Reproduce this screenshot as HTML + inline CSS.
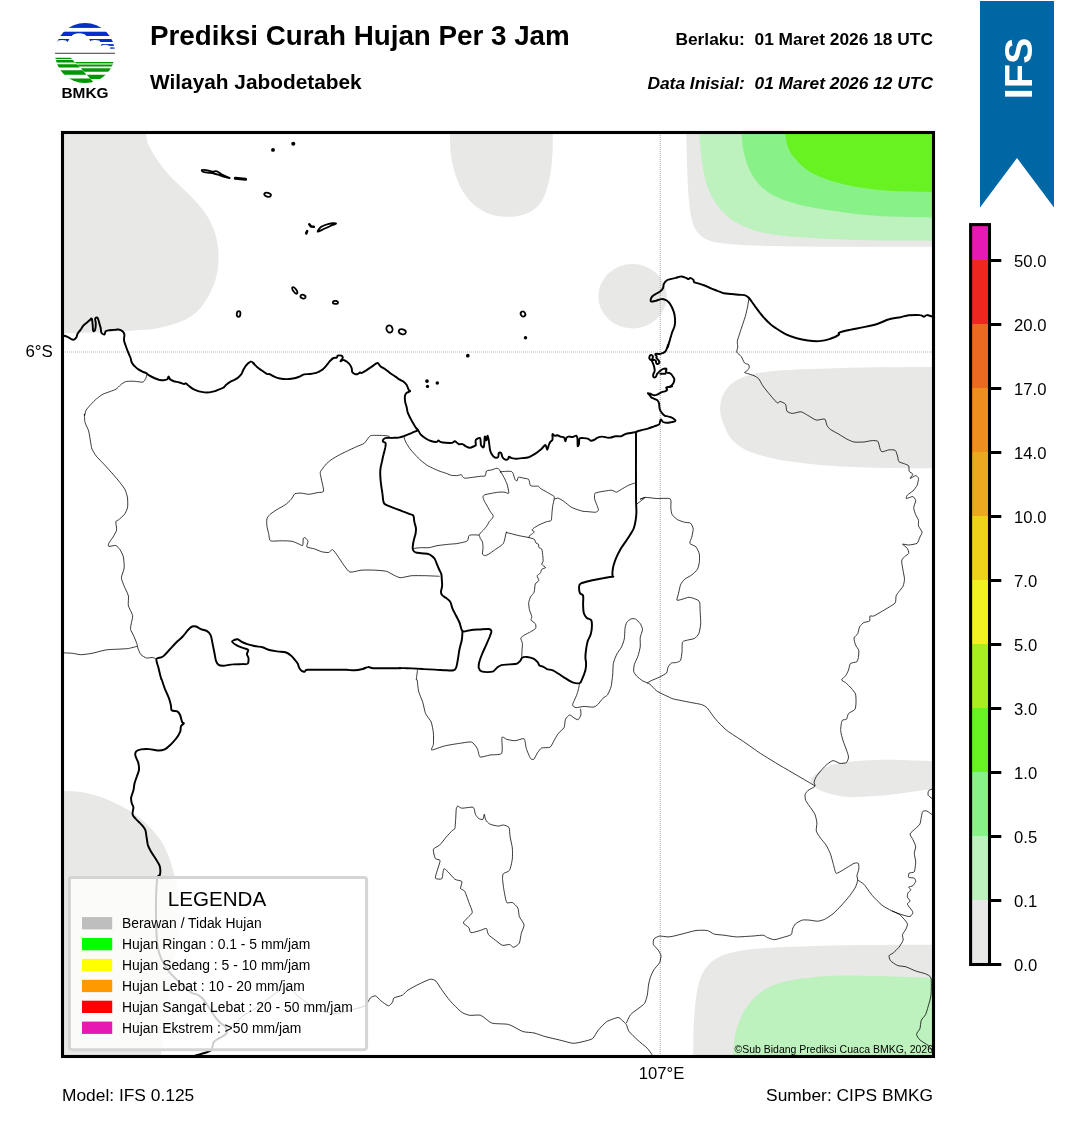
<!DOCTYPE html>
<html lang="id">
<head>
<meta charset="utf-8">
<title>Prediksi Curah Hujan Per 3 Jam - Wilayah Jabodetabek</title>
<style>
html,body{margin:0;padding:0;background:#fff;}
svg{display:block;font-family:"Liberation Sans",sans-serif;}
</style>
</head>
<body>
<svg width="1072" height="1128" viewBox="0 0 1072 1128">
<rect width="1072" height="1128" fill="#fff"/>
<defs>
<clipPath id="mapclip"><rect x="63" y="133" width="870" height="923"/></clipPath>
<clipPath id="logoclip"><circle cx="85" cy="53" r="30"/></clipPath>
</defs>

<!-- HEADER TEXT -->
<text x="150" y="44.500" font-size="27.78" font-weight="bold" fill="#000">Prediksi Curah Hujan Per 3 Jam</text>
<text x="150" y="88.600" font-size="20.83" font-weight="bold" fill="#000">Wilayah Jabodetabek</text>
<text x="933" y="45" font-size="17.36" font-weight="bold" text-anchor="end" xml:space="preserve" fill="#000">Berlaku:  01 Maret 2026 18 UTC</text>
<text x="933" y="89" font-size="17.36" font-weight="bold" font-style="italic" text-anchor="end" xml:space="preserve" fill="#000">Data Inisial:  01 Maret 2026 12 UTC</text>

<!-- LOGO -->
<g id="logo">
<!--LOGO-->
<g clip-path="url(#logoclip)">
<rect x="50" y="20" width="70" height="7.9" fill="#0030c8"/>
<rect x="50" y="31.7" width="70" height="4.3" fill="#0030c8"/>
<ellipse cx="79.1" cy="36.6" rx="7.4" ry="3.3" fill="#fff"/>
<path d="M50 38.9H69.4L67.5 42H50Z" fill="#0030c8"/>
<ellipse cx="62.1" cy="42.4" rx="5.2" ry="2.4" fill="#fff"/>
<path d="M89.2 38.9H120V42H90.8Z" fill="#0030c8"/>
<ellipse cx="95.1" cy="42.4" rx="5.2" ry="2.3" fill="#fff"/>
<rect x="101.3" y="44.1" width="20" height="1.8" fill="#0030c8"/>
<ellipse cx="105.3" cy="46.2" rx="3.6" ry="1.5" fill="#fff"/>
<rect x="110.1" y="47.4" width="10" height="1.3" fill="#0030c8"/>
<rect x="50" y="52.7" width="70" height="1.3" fill="#666"/>
<path d="M50 57.7H70.6L71.8 59.0H50Z" fill="#009600"/>
<path d="M50 60.1H72.8L75.0 62.4H50Z" fill="#009600"/>
<path d="M50 64.2H76.7L79.9 67.6H50Z" fill="#009600"/>
<path d="M50 70.2H82.3L86.6 74.8H50Z" fill="#009600"/>
<path d="M50 78.6H90.1L95.2 84H50Z" fill="#009600"/>
<path d="M120 61.9H74.8L75.9 63.0H120Z" fill="#009600"/>
<path d="M120 63.0H75.9L77.4 64.7H120Z" fill="#8fd08f"/>
<path d="M120 64.7H77.4L79.2 66.6H120Z" fill="#009600"/>
<path d="M120 68.3H80.8L84.0 71.7H120Z" fill="#009600"/>
<path d="M120 74.7H86.8L90.7 78.9H120Z" fill="#009600"/>
</g>
<!--/LOGO-->
</g>
<text x="85" y="98" font-size="15.400" font-weight="bold" text-anchor="middle" fill="#000">BMKG</text>

<!-- IFS BANNER -->
<path d="M980 1H1054V207.500L1017 158L980 207.500Z" fill="#0067a5"/>
<text transform="translate(1032 68.500) rotate(-90)" font-size="39.600" font-weight="bold" text-anchor="middle" fill="#fff">IFS</text>

<!-- MAP -->
<g clip-path="url(#mapclip)">
<g id="fills">
<!--FILLS-->
<path d="M145.2 130.0C145.3 130.7 145.5 131.7 146.0 134.0C146.5 136.3 146.5 140.1 148.0 143.8C149.5 147.5 151.8 151.5 155.0 156.4C158.2 161.3 163.1 168.1 167.5 173.2C171.9 178.3 176.8 182.5 181.5 187.2C186.2 191.9 191.3 196.5 195.5 201.2C199.7 205.9 203.7 210.5 206.7 215.2C209.7 219.9 211.9 224.5 213.7 229.2C215.5 233.8 216.6 238.4 217.4 243.1C218.2 247.8 218.5 252.4 218.5 257.1C218.5 261.8 218.2 266.4 217.4 271.1C216.6 275.8 215.5 280.4 213.7 285.1C211.9 289.8 209.3 294.9 206.7 299.1C204.1 303.3 201.6 307.0 198.3 310.3C195.0 313.6 191.3 316.4 187.1 318.7C182.9 321.0 178.2 322.7 173.1 324.3C168.0 325.9 162.9 327.5 156.4 328.5C149.9 329.5 142.4 329.9 134.0 330.5C125.6 331.1 117.7 331.4 106.0 331.9C94.3 332.4 72.5 333.0 64.0 333.3C55.5 333.6 56.5 333.5 55.0 333.5L55 130Z" fill="#e8e8e7"/>
<path d="M449.9 128.0C449.9 129.0 449.9 129.7 450.0 134.0C450.1 138.3 450.0 147.1 450.8 153.6C451.6 160.1 453.1 167.1 455.0 173.2C456.9 179.3 459.0 184.9 462.0 190.0C465.0 195.1 468.9 200.2 473.1 204.0C477.3 207.8 482.2 210.8 487.1 212.9C492.0 215.0 497.4 216.1 502.5 216.6C507.6 217.1 513.0 216.9 517.9 216.0C522.8 215.1 527.9 213.5 531.9 211.0C535.9 208.5 539.1 205.2 541.7 201.2C544.3 197.2 545.8 192.3 547.3 187.2C548.8 182.1 550.1 176.5 551.0 170.4C551.9 164.3 552.3 156.9 552.6 150.8C552.9 144.7 552.8 137.8 552.9 134.0C553.0 130.2 553.0 129.0 553.0 128.0Z" fill="#e8e8e7"/>
<ellipse cx="632.5" cy="296.3" rx="34.2" ry="32.2" fill="#e8e8e7"/>
<path d="M686.0 128.0C686.0 129.0 686.0 128.3 686.2 134.0C686.4 139.7 686.7 152.7 687.0 162.0C687.3 171.3 687.5 181.6 688.1 190.0C688.7 198.4 689.3 206.1 690.4 212.4C691.5 218.7 692.5 223.6 694.6 227.8C696.7 232.0 699.5 235.1 703.0 237.5C706.5 239.9 710.2 241.1 715.6 242.3C721.0 243.5 726.8 243.9 735.2 244.5C743.6 245.1 753.8 245.6 765.9 245.9C778.0 246.2 791.6 246.3 807.9 246.5C824.2 246.7 843.1 246.8 863.9 246.8C884.7 246.9 919.8 246.8 932.5 246.8C945.2 246.8 938.8 246.8 940.0 246.8L940 128Z" fill="#e8e8e7"/>
<path d="M699.0 128.0C699.0 129.0 699.0 129.7 699.3 134.0C699.6 138.3 700.1 146.6 701.0 153.6C701.9 160.6 702.9 169.5 704.4 176.0C705.9 182.5 707.7 187.7 710.0 192.8C712.3 197.9 715.1 202.6 718.4 206.8C721.7 211.0 725.4 214.7 729.6 218.0C733.8 221.3 738.5 224.1 743.6 226.4C748.7 228.7 753.3 230.4 760.3 232.0C767.3 233.6 776.6 235.1 785.5 236.1C794.4 237.1 802.8 237.5 813.5 238.1C824.2 238.7 836.8 239.4 849.9 239.8C863.0 240.2 878.1 240.4 891.9 240.6C905.7 240.8 924.5 240.8 932.5 240.9C940.5 241.0 938.8 241.0 940.0 241.0L940 128Z" fill="#bdf1bd"/>
<path d="M741.4 128.0C741.4 129.0 741.3 130.7 741.6 134.0C741.9 137.3 742.2 143.3 743.0 148.0C743.8 152.7 744.9 157.6 746.4 162.0C747.9 166.4 749.7 170.6 752.0 174.6C754.3 178.6 757.0 182.5 760.3 185.8C763.5 189.1 767.3 191.7 771.5 194.2C775.7 196.7 780.4 198.7 785.5 200.6C790.6 202.5 796.2 204.0 802.3 205.4C808.4 206.8 814.9 207.8 821.9 209.0C828.9 210.2 836.4 211.4 844.3 212.4C852.2 213.4 860.6 214.5 869.5 215.2C878.4 215.9 887.0 216.4 897.5 216.8C908.0 217.2 925.4 217.5 932.5 217.7C939.6 217.9 938.8 217.8 940.0 217.8L940 128Z" fill="#88f288"/>
<path d="M785.0 128.0C785.1 129.0 785.2 131.4 785.5 134.0C785.8 136.6 786.0 140.5 786.9 143.8C787.8 147.1 789.2 150.6 791.1 153.6C793.0 156.6 795.3 159.2 798.1 162.0C800.9 164.8 803.9 167.8 807.9 170.4C811.9 173.0 816.8 175.3 821.9 177.4C827.0 179.5 832.6 181.4 838.7 183.0C844.8 184.6 851.3 186.0 858.3 187.2C865.3 188.4 872.8 189.3 880.7 190.0C888.6 190.7 897.3 191.2 905.9 191.6C914.5 192.0 926.8 192.1 932.5 192.2C938.2 192.3 938.8 192.3 940.0 192.3L940 128Z" fill="#68f222"/>
<path d="M940.0 366.9C938.8 366.9 945.2 366.8 932.5 366.9C919.8 367.0 884.7 367.0 863.9 367.4C843.1 367.8 824.2 368.4 807.9 369.1C791.6 369.9 776.1 370.7 765.9 371.9C755.6 373.1 752.0 374.2 746.4 376.1C740.8 378.0 736.1 380.3 732.4 383.1C728.7 385.9 726.0 389.6 724.0 392.9C722.0 396.2 721.2 399.2 720.6 402.7C720.0 406.2 719.9 410.2 720.5 414.0C721.1 417.8 722.5 421.5 724.0 425.2C725.5 428.9 727.0 432.9 729.6 436.4C732.2 439.9 735.7 443.5 739.4 446.2C743.1 448.9 747.1 450.7 752.0 452.6C756.9 454.5 762.2 455.9 768.7 457.4C775.2 458.9 782.2 460.3 791.1 461.6C800.0 462.9 810.7 464.3 821.9 465.2C833.1 466.1 846.6 466.7 858.3 467.2C870.0 467.7 879.5 467.8 891.9 468.0C904.3 468.2 924.5 468.2 932.5 468.3C940.5 468.4 938.8 468.3 940.0 468.3Z" fill="#e8e8e7"/>
<path d="M940.0 761.6C938.6 761.5 935.5 761.5 931.8 761.3C928.1 761.1 923.6 760.8 917.7 760.6C911.8 760.4 903.5 760.0 896.4 759.9C889.3 759.8 882.2 759.9 875.1 760.1C868.0 760.3 860.9 760.5 853.8 761.3C846.7 762.1 838.5 763.0 832.6 764.8C826.7 766.6 822.1 769.3 818.4 771.9C814.7 774.5 811.1 777.8 810.6 780.4C810.1 783.0 813.0 785.5 815.5 787.5C818.0 789.5 821.5 791.1 825.5 792.5C829.5 793.9 834.9 795.2 839.6 796.0C844.3 796.8 847.9 797.0 853.8 797.0C859.7 797.0 868.0 796.5 875.1 796.0C882.2 795.5 889.3 794.7 896.4 793.9C903.5 793.1 911.8 791.9 917.7 791.1C923.6 790.3 928.1 789.7 931.8 789.2C935.5 788.7 938.6 788.4 940.0 788.2Z" fill="#e8e8e7"/>
<path d="M693.0 1060.0C693.0 1059.0 693.1 1059.6 693.2 1053.9C693.3 1048.2 693.2 1035.2 693.7 1025.9C694.2 1016.6 694.9 1005.9 696.0 998.0C697.1 990.1 698.1 984.0 700.2 978.4C702.3 972.8 705.1 968.1 708.6 964.4C712.1 960.7 716.3 958.2 721.2 956.0C726.1 953.8 730.5 952.5 738.0 951.2C745.5 949.9 754.2 948.9 765.9 948.1C777.5 947.3 791.6 946.7 807.9 946.2C824.2 945.7 843.1 945.3 863.9 945.1C884.7 944.9 919.8 944.8 932.5 944.8C945.2 944.8 938.8 944.8 940.0 944.8L940 1060Z" fill="#e8e8e7"/>
<path d="M733.0 1060.0C733.0 1059.0 732.8 1058.2 733.2 1053.9C733.6 1049.6 733.9 1040.4 735.2 1034.3C736.5 1028.2 738.5 1022.6 740.8 1017.5C743.1 1012.4 746.0 1007.8 749.2 1003.6C752.5 999.4 756.1 995.5 760.3 992.4C764.5 989.3 769.2 986.8 774.3 984.8C779.4 982.8 784.6 981.6 791.1 980.3C797.6 979.0 805.1 978.0 813.5 977.2C821.9 976.4 830.8 975.8 841.5 975.6C852.2 975.4 867.2 975.9 877.9 976.1C888.6 976.3 896.8 976.7 905.9 977.0C915.0 977.3 926.8 977.6 932.5 977.8C938.2 978.0 938.8 978.0 940.0 978.0L940 1060Z" fill="#bdf1bd"/>
<path d="M55.0 791.0C56.5 791.0 59.2 790.9 64.0 791.1C68.8 791.4 76.6 791.2 83.6 792.5C90.6 793.8 98.5 796.0 106.0 798.9C113.5 801.8 121.9 806.1 128.4 810.1C134.9 814.1 140.1 818.0 145.2 822.7C150.3 827.4 155.5 833.0 159.2 838.1C162.9 843.2 165.2 848.1 167.5 853.5C169.8 858.9 171.5 864.7 173.1 870.3C174.7 875.9 176.3 881.5 177.3 887.1C178.3 892.7 178.8 898.8 179.3 903.9C179.8 909.0 180.1 913.2 180.1 917.9C180.1 922.6 179.8 926.8 179.3 931.9C178.8 937.0 178.3 943.1 177.3 948.7C176.3 954.3 174.7 957.0 173.1 965.5C171.5 974.0 169.7 988.4 168.0 1000.0C166.3 1011.6 164.2 1025.7 163.0 1035.0C161.8 1044.3 161.4 1051.8 161.0 1056.0C160.6 1060.2 160.6 1059.3 160.5 1060.0L55 1060Z" fill="#e8e8e7"/>
<!--/FILLS-->
</g>
<g id="grid" stroke="#b4b4b4" stroke-width="1.200" stroke-dasharray="1 1" fill="none">
<path d="M63 352H933M660.300 133V1056"/>
</g>
<g id="thin" stroke="#000" stroke-width="0.780" fill="none" stroke-linejoin="round">
<!--THIN-->
<path d="M146.8 374.6C146.7 375.0 146.2 377.6 145.8 378.4C145.4 379.2 144.0 381.8 143.0 382.1C142.0 382.4 137.8 381.6 136.5 381.5C135.2 381.4 132.1 381.1 130.9 381.2C129.7 381.2 126.4 381.3 125.3 381.7C124.2 382.1 121.6 384.1 120.6 384.9C119.6 385.7 117.1 388.5 116.0 389.2C114.9 389.9 111.8 390.9 110.4 391.4C109.0 392.0 104.4 393.4 102.9 394.2C101.4 395.0 97.7 397.8 96.4 398.9C95.1 400.0 91.9 403.3 90.8 404.5C89.7 405.7 86.8 408.9 86.1 410.1C85.5 411.3 84.8 415.3 84.6 415.7C84.4 416.1 84.4 413.3 84.4 414.0C84.5 414.7 84.5 420.6 85.0 422.4C85.4 424.2 88.0 428.7 88.6 430.8C89.2 432.9 90.2 440.0 90.6 442.0C90.9 443.9 91.4 447.5 92.0 449.0C92.6 450.5 94.8 454.3 96.2 456.0C97.5 457.7 102.8 463.0 104.6 464.9C106.4 466.9 111.3 472.3 113.0 474.2C114.6 476.0 118.7 480.9 120.0 482.6C121.2 484.2 124.2 487.9 125.0 489.6C125.8 491.2 127.3 496.0 127.5 497.9C127.8 499.9 127.9 506.0 127.5 507.7C127.2 509.5 125.1 513.5 124.2 514.7C123.2 516.0 119.5 519.0 118.6 519.8C117.7 520.5 116.0 520.6 115.8 521.7C115.6 522.8 116.9 528.5 116.6 530.1C116.3 531.8 113.8 535.7 113.0 537.1C112.1 538.5 109.2 542.3 108.8 543.3C108.3 544.3 108.0 546.1 108.8 546.4C109.5 546.6 114.6 545.2 115.8 545.5C117.0 545.9 119.2 548.5 120.0 549.7C120.8 550.9 122.9 554.8 123.3 556.7C123.8 558.7 124.4 565.7 124.2 567.9C124.0 570.2 121.4 575.8 121.4 577.7C121.4 579.6 123.4 584.2 124.2 586.1C124.9 588.0 127.9 593.8 128.4 595.9C128.8 598.0 127.9 603.6 128.4 605.7C128.8 607.8 132.3 613.5 132.6 615.5C132.9 617.4 131.4 622.4 131.2 623.9C130.9 625.4 130.3 628.1 130.6 629.5C130.9 630.8 133.3 635.0 134.0 636.5C134.6 638.0 136.3 642.1 136.8 643.5C137.2 644.8 137.7 647.9 138.2 649.1C138.6 650.3 140.1 653.7 141.0 654.7C141.8 655.6 145.4 657.7 146.5 658.0C147.7 658.3 151.1 657.4 152.1 657.5C153.2 657.6 155.9 658.7 156.3 658.9"/>
<path d="M61.2 652.7C62.4 652.8 70.3 653.1 72.4 653.3C74.5 653.5 78.7 654.7 80.8 654.7C82.9 654.7 89.3 653.8 92.0 653.3C94.7 652.8 103.0 650.4 106.0 649.9C109.0 649.5 117.6 649.2 120.0 649.1C122.4 648.9 126.5 648.8 128.4 648.5C130.2 648.2 136.4 646.5 137.3 646.3"/>
<path d="M389.6 436.3C388.9 436.2 385.4 435.6 383.6 435.5C381.8 435.4 373.9 435.3 372.4 435.4C370.9 435.5 370.3 435.7 369.4 436.6C368.5 437.4 365.5 442.2 364.2 443.3C362.8 444.4 358.6 445.7 356.7 446.6C354.8 447.4 348.3 450.5 346.3 451.5C344.2 452.5 339.2 454.9 337.3 456.0C335.4 457.1 330.1 460.3 328.4 461.9C326.6 463.5 321.7 469.5 320.9 470.9C320.1 472.2 320.2 472.5 320.4 474.6C320.7 476.8 323.9 489.1 323.6 491.0C323.3 493.0 319.5 492.2 317.9 492.5C316.3 492.9 310.6 494.2 308.9 494.3C307.2 494.4 303.4 493.3 301.9 493.2C300.4 493.1 296.0 493.1 294.9 493.8C293.7 494.4 292.3 498.2 291.2 499.3C290.2 500.5 286.6 503.8 285.1 504.9C283.5 506.0 278.3 508.7 276.7 509.7C275.0 510.7 270.7 513.8 269.7 514.7C268.6 515.7 267.2 517.7 266.9 518.9C266.6 520.1 266.7 524.3 266.9 525.9C267.1 527.6 268.5 532.7 268.8 534.3C269.2 535.9 269.1 540.1 270.5 540.8C272.0 541.5 280.0 540.7 282.3 540.8C284.6 540.8 290.3 541.0 292.1 541.3C293.9 541.7 297.9 543.7 299.1 544.1C300.2 544.6 302.3 546.1 302.7 545.5C303.2 544.9 303.0 539.4 303.3 538.5C303.5 537.7 304.7 537.4 305.2 537.7C305.7 538.0 307.8 540.3 308.0 541.3C308.2 542.3 306.2 546.1 306.9 546.9C307.6 547.7 312.9 548.4 314.5 548.9C316.0 549.4 320.0 551.3 321.5 551.7C323.0 552.1 327.3 552.7 328.5 552.5C329.6 552.3 331.6 549.3 332.7 549.7C333.7 550.2 337.1 555.1 338.2 556.7C339.4 558.4 342.6 563.5 343.8 565.1C345.1 566.8 348.2 571.6 350.0 572.1C351.9 572.6 358.5 570.4 361.2 570.2C363.9 569.9 372.5 570.0 375.2 570.2C377.9 570.3 384.4 570.8 386.4 571.3C388.3 571.8 391.9 574.2 393.4 574.9C394.9 575.6 398.4 577.6 400.4 577.7C402.3 577.8 408.9 576.0 411.6 575.7C414.3 575.5 422.6 575.7 425.6 575.7C428.5 575.8 438.1 576.2 439.6 576.3"/>
<path d="M403.8 436.8C404.0 437.4 405.3 441.1 405.9 442.3C406.5 443.6 408.9 447.4 409.9 448.7C410.9 450.1 414.3 453.8 415.5 455.1C416.7 456.4 419.8 459.6 421.1 460.7C422.3 461.8 426.1 464.6 427.4 465.5C428.8 466.3 432.5 468.0 433.8 468.7C435.2 469.3 438.8 470.9 440.2 471.4C441.6 471.9 445.4 473.0 446.6 473.5C447.8 473.9 450.2 475.1 451.4 475.4C452.6 475.6 456.7 475.6 457.8 475.5C458.8 475.4 460.8 474.5 461.3 474.6C461.8 474.7 462.2 476.3 462.5 476.6C462.9 477.0 463.9 478.2 464.9 478.2C466.0 478.3 470.5 477.6 472.1 477.4C473.7 477.2 478.7 476.5 480.1 476.3C481.5 476.2 484.5 476.4 485.2 475.8C485.9 475.3 485.8 471.7 486.5 471.1C487.2 470.4 491.0 470.1 492.1 469.8C493.1 469.5 495.4 468.5 496.1 468.3C496.7 468.2 497.9 468.3 498.5 468.7C499.0 469.0 500.6 471.5 500.8 471.9"/>
<path d="M500.8 471.9C501.2 472.5 503.4 476.2 504.0 477.4C504.7 478.7 506.4 482.5 506.9 483.8C507.4 485.2 508.3 489.2 508.5 490.2C508.7 491.2 509.0 493.2 508.5 493.4C508.0 493.6 505.2 492.2 504.0 492.1C502.9 492.0 499.0 492.1 497.7 492.3C496.3 492.4 492.6 493.1 491.3 493.4C489.9 493.7 485.8 494.3 484.9 494.7C484.0 495.0 483.1 496.0 483.0 496.6C482.9 497.2 483.6 499.6 484.1 500.6C484.5 501.6 486.6 505.0 487.3 506.2C488.0 507.4 489.8 510.7 490.5 511.8C491.1 512.8 493.0 515.0 493.2 515.7C493.4 516.5 492.5 518.0 492.1 518.6C491.7 519.2 489.9 520.6 489.4 521.3C488.8 522.0 487.8 524.5 487.3 525.3C486.7 526.2 484.8 528.5 484.1 529.3C483.4 530.1 481.4 531.9 480.9 532.5C480.4 533.1 479.2 534.9 479.0 535.2"/>
<path d="M500.8 471.9C500.8 471.9 499.5 471.9 500.0 471.9C500.5 471.8 504.4 471.4 505.6 471.4C506.8 471.3 510.4 471.2 511.2 471.4C512.0 471.6 512.7 472.6 513.1 473.5C513.5 474.4 514.7 479.1 515.2 479.8C515.6 480.6 516.9 480.9 517.2 480.6C517.6 480.3 517.6 477.4 518.4 477.1C519.1 476.9 522.8 478.0 523.9 478.2C525.0 478.5 528.0 478.6 528.7 479.4C529.4 480.1 529.7 484.7 530.3 485.4C530.9 486.2 533.5 486.1 534.3 486.2C535.2 486.3 537.6 486.0 538.3 486.2C539.0 486.5 539.8 488.0 540.7 488.6C541.5 489.2 545.1 491.1 546.3 491.8C547.5 492.5 551.0 494.5 551.9 495.0C552.7 495.5 554.0 496.2 554.3 496.6C554.5 497.0 553.8 498.8 554.3 499.0C554.7 499.2 557.2 497.9 558.2 498.2C559.3 498.4 562.5 500.4 563.8 501.4C565.2 502.3 569.6 506.1 571.0 507.0C572.4 507.8 575.3 508.9 576.6 509.4C577.9 509.8 581.6 511.0 583.0 511.3C584.3 511.5 588.0 511.6 589.4 511.8C590.7 511.9 594.8 512.4 595.7 512.2C596.7 512.1 598.3 510.8 598.5 510.2C598.6 509.5 597.6 507.0 597.3 506.2C597.0 505.3 596.0 503.0 595.7 502.2C595.4 501.3 594.5 499.1 594.5 498.2C594.4 497.3 594.5 494.0 594.9 493.4C595.4 492.8 597.8 492.4 598.9 492.1C600.0 491.9 604.0 491.2 605.3 491.0C606.7 490.8 610.5 490.1 611.7 490.2C612.9 490.3 615.5 492.2 616.5 492.1C617.5 492.0 620.1 490.1 621.3 489.4C622.5 488.7 626.5 486.3 627.7 485.7C628.8 485.1 631.6 484.1 632.4 483.8C633.3 483.5 635.6 482.8 636.0 482.7"/>
<path d="M554.3 499.0C554.1 499.8 552.9 504.5 552.7 506.2C552.4 507.8 552.0 512.6 551.9 514.1C551.7 515.7 551.7 519.7 551.1 520.5C550.5 521.3 547.5 521.4 546.3 521.8C545.1 522.2 541.2 523.9 539.9 524.5C538.6 525.1 535.2 527.1 534.3 527.7C533.5 528.3 531.9 529.7 531.9 530.1C531.9 530.5 534.3 531.3 534.3 531.7C534.3 532.1 532.4 533.7 531.9 534.1C531.4 534.5 529.8 535.3 529.5 535.7C529.2 536.1 529.1 537.4 529.0 537.6"/>
<path d="M413.4 548.5C414.2 548.4 419.4 547.7 421.1 547.7C422.7 547.6 427.3 547.9 429.0 547.7C430.7 547.4 435.1 546.1 437.0 545.7C438.9 545.4 444.5 544.7 446.6 544.5C448.6 544.2 454.3 543.9 456.2 543.7C458.0 543.4 462.9 542.4 464.1 542.1C465.4 541.7 467.1 541.2 467.7 540.5C468.2 539.8 468.5 536.3 468.9 535.7C469.4 535.1 471.0 534.9 472.1 534.9C473.2 534.8 478.1 534.9 479.0 535.2C479.8 535.5 479.7 537.3 480.1 538.1C480.5 538.8 482.2 541.0 482.5 542.1C482.8 543.1 483.0 546.4 483.0 547.7C483.0 548.9 482.3 553.2 482.5 554.0C482.7 554.9 484.2 555.6 484.9 555.6C485.6 555.6 487.9 554.6 488.9 554.0C489.9 553.4 493.4 550.8 494.5 550.0C495.6 549.3 498.3 547.5 499.2 546.9C500.2 546.2 502.6 544.5 503.2 543.7C503.8 542.8 504.5 540.0 504.8 538.9C505.1 537.8 505.7 534.0 506.0 533.3C506.2 532.6 506.9 532.1 506.9 532.0C506.9 531.9 505.6 532.3 506.1 532.5C506.5 532.7 509.8 533.3 511.2 533.6C512.6 534.0 517.2 535.3 519.1 535.7C521.1 536.1 527.4 537.2 529.0 537.6C530.7 538.0 533.6 538.8 534.3 539.4C535.0 539.9 535.5 542.4 535.9 542.9C536.3 543.4 538.0 543.6 538.3 544.1C538.6 544.7 538.7 547.1 539.1 547.7C539.5 548.2 541.4 548.4 541.8 549.2C542.2 550.1 542.6 554.4 542.8 555.6C542.9 556.9 543.2 560.3 543.1 561.2C543.0 562.2 541.6 563.7 541.8 564.4C542.1 565.1 545.5 567.1 545.5 567.6C545.5 568.1 542.3 568.7 541.8 569.2C541.3 569.7 540.9 571.9 540.7 572.4C540.5 572.8 540.3 573.1 539.9 573.5C539.5 573.9 537.3 575.1 537.1 575.8C537.0 576.6 539.0 579.6 538.8 580.5C538.6 581.4 535.8 582.7 535.3 584.0C534.8 585.2 534.6 590.8 534.1 592.2C533.6 593.5 531.2 595.7 530.6 596.8C530.0 597.9 528.9 601.3 528.7 602.6C528.6 604.0 529.1 608.2 529.4 609.6C529.8 611.1 531.6 615.5 531.8 616.6C531.9 617.8 530.7 619.4 531.1 620.1C531.4 620.9 534.8 622.8 535.3 623.6C535.8 624.5 536.2 627.4 535.7 628.3C535.2 629.2 531.8 631.1 530.6 631.8C529.4 632.5 525.8 634.2 524.8 634.8C523.7 635.5 521.1 637.2 520.8 638.1C520.6 639.0 522.3 642.1 522.4 643.5C522.6 644.8 522.0 649.0 522.0 650.5C521.9 651.9 521.8 656.7 521.7 657.5"/>
<path d="M417.5 669.8C417.4 670.9 416.4 678.5 416.3 679.6C416.3 680.7 416.9 678.8 417.2 680.0C417.4 681.2 418.0 688.8 418.6 691.2C419.2 693.6 422.0 700.0 422.8 702.4C423.5 704.8 424.7 711.5 425.6 713.6C426.5 715.7 430.3 719.9 431.2 722.0C432.0 724.1 433.2 730.8 433.4 733.2C433.6 735.6 433.6 742.6 433.4 744.4C433.2 746.2 430.5 749.8 431.7 750.0C433.0 750.1 441.9 746.5 445.2 745.8C448.4 745.0 459.1 743.4 461.9 743.0C464.8 742.6 470.1 741.5 471.7 742.1C473.4 742.7 476.4 747.0 477.3 748.6C478.2 750.1 478.8 756.3 480.1 757.0C481.5 757.6 487.6 755.4 489.9 755.0C492.2 754.6 500.4 755.2 501.7 753.3C503.0 751.4 501.4 738.9 502.0 737.4C502.5 735.9 505.3 739.0 506.7 739.3C508.1 739.7 513.3 740.8 515.1 740.7C517.0 740.7 522.9 737.9 524.1 738.8C525.3 739.6 525.6 746.5 526.3 748.6C527.0 750.7 529.7 757.2 530.5 758.4C531.3 759.5 533.1 759.8 533.9 759.2C534.6 758.6 536.7 754.0 537.5 752.8C538.3 751.6 540.4 748.6 541.7 748.0C543.0 747.4 548.8 748.0 550.1 747.2C551.4 746.3 553.4 741.7 554.3 740.2C555.2 738.7 557.4 734.5 558.5 733.2C559.5 731.8 563.3 729.1 564.1 727.6C564.8 726.1 564.9 720.5 565.5 719.2C566.1 717.8 568.8 715.1 569.7 715.0C570.6 714.8 573.0 717.3 573.9 717.8C574.8 718.3 577.3 720.0 578.1 719.7C578.8 719.4 580.6 716.1 580.9 715.0C581.1 713.8 580.6 709.5 580.6 708.8"/>
<path d="M457.7 805.9C458.2 806.2 460.3 808.0 461.9 808.2C463.6 808.3 471.7 806.7 473.1 807.3C474.6 808.0 474.8 813.1 475.4 814.3C476.0 815.5 477.9 818.0 478.7 818.5C479.5 819.1 482.3 819.8 482.9 819.4C483.5 818.9 484.0 814.3 484.3 814.3C484.6 814.4 485.1 818.9 485.7 819.9C486.3 821.0 488.6 823.5 489.9 824.1C491.3 824.8 496.9 826.0 498.3 826.1C499.8 826.2 502.2 824.8 503.4 825.0C504.5 825.1 508.2 826.2 509.0 827.5C509.7 828.7 509.7 834.5 510.1 836.7C510.4 838.9 512.1 845.5 512.3 847.9C512.6 850.3 512.6 856.7 512.3 859.1C512.0 861.5 510.5 868.7 509.5 870.3C508.6 871.9 504.1 872.8 503.4 873.7C502.6 874.6 502.5 877.0 502.5 878.7C502.6 880.4 503.5 887.4 503.9 889.9C504.4 892.4 505.8 901.1 506.7 902.5C507.6 903.8 511.1 901.9 512.3 902.5C513.5 903.1 517.2 906.6 517.9 908.1C518.7 909.6 518.7 914.7 519.3 916.5C520.0 918.3 523.9 923.1 524.1 924.9C524.3 926.7 521.8 931.3 521.3 933.3C520.8 935.2 520.1 941.6 519.3 943.1C518.5 944.6 514.8 947.1 513.7 947.3C512.7 947.4 510.7 944.7 509.5 944.5C508.3 944.3 504.0 945.7 502.5 945.3C501.0 944.9 497.0 941.4 495.5 940.3C494.0 939.1 489.5 935.9 488.5 934.7C487.5 933.4 487.2 929.0 486.3 928.5C485.4 928.1 481.8 930.0 480.1 930.5C478.5 930.9 472.1 933.0 470.9 932.7C469.7 932.4 469.7 928.7 468.9 927.7C468.1 926.6 463.5 924.0 463.3 922.9C463.2 921.9 466.6 919.0 467.5 917.9C468.5 916.7 472.1 913.9 472.3 912.3C472.4 910.6 469.7 904.7 468.9 902.5C468.1 900.2 465.6 892.8 464.7 891.3C463.8 889.8 460.8 889.5 460.5 888.5C460.2 887.4 462.5 882.5 461.9 881.5C461.3 880.5 456.4 880.3 454.9 879.3C453.5 878.2 449.1 872.8 447.9 871.7C446.8 870.6 444.4 868.2 443.8 868.9C443.1 869.6 442.7 877.7 441.8 878.7C440.9 879.7 435.8 879.0 435.4 878.1C434.9 877.2 436.8 872.2 437.3 870.3C437.8 868.4 440.3 861.8 440.1 860.5C439.9 859.3 436.1 859.7 435.4 858.5C434.6 857.4 432.9 850.7 433.4 849.3C433.8 847.9 438.2 846.5 439.6 845.1C441.0 843.8 445.2 838.3 446.5 836.7C447.9 835.2 451.3 831.5 452.1 830.6C453.0 829.7 454.6 829.8 454.9 828.3C455.3 826.9 455.6 819.2 455.8 817.1C455.9 815.0 456.1 809.9 456.3 808.7C456.6 807.5 457.6 806.2 457.7 805.9"/>
<path d="M748.9 298.3C748.8 299.1 748.0 304.5 747.7 306.3C747.3 308.1 746.2 313.2 745.7 315.1C745.2 316.9 743.5 321.9 742.9 323.8C742.2 325.8 740.3 331.5 739.7 333.4C739.1 335.3 737.5 339.9 737.3 341.4C737.1 342.8 737.8 345.8 737.8 347.0C737.7 348.1 736.4 351.2 736.8 352.2C737.2 353.3 740.5 355.4 741.3 356.5C742.1 357.7 743.7 362.1 744.5 362.9C745.2 363.8 747.9 364.0 748.5 364.5C749.0 365.0 749.4 367.0 749.2 367.7C749.1 368.4 747.4 370.4 746.9 370.9C746.3 371.4 744.4 372.2 744.5 372.5C744.5 372.8 746.6 373.3 747.7 373.6C748.7 374.0 752.8 375.1 754.0 375.7C755.2 376.2 758.0 377.9 758.8 378.9C759.7 379.8 761.2 383.3 762.0 384.5C762.8 385.7 764.4 388.1 766.0 390.0C767.6 392.0 775.6 401.6 777.1 402.8C778.6 404.0 779.0 401.3 779.9 401.4C780.8 401.5 784.8 403.2 785.5 404.2C786.3 405.2 786.2 410.2 786.9 411.2C787.7 412.2 791.0 413.4 792.5 413.4C794.0 413.5 799.3 411.5 800.9 411.8C802.6 412.0 806.3 414.5 807.9 415.4C809.6 416.3 814.5 419.8 816.3 420.1C818.1 420.5 823.6 418.5 824.7 419.0C825.8 419.6 826.3 424.1 826.9 425.2C827.5 426.3 829.0 428.4 830.3 429.4C831.6 430.3 836.9 433.1 838.7 434.1C840.5 435.2 845.4 438.3 847.1 439.2C848.7 440.0 852.3 441.7 854.1 442.0C855.9 442.3 861.9 442.1 863.9 442.0C865.8 441.8 870.8 440.6 872.3 440.6C873.8 440.5 877.0 440.5 877.9 441.4C878.7 442.3 879.7 447.9 880.1 449.0C880.6 450.1 881.1 451.7 882.1 451.8C883.0 451.9 887.7 450.0 889.1 449.8C890.5 449.7 894.3 449.7 895.2 450.4C896.1 451.0 897.1 454.8 897.5 456.0C897.9 457.2 898.1 460.7 898.9 461.6C899.6 462.4 903.4 463.4 904.5 463.8C905.5 464.3 908.2 465.0 908.7 465.8C909.2 466.6 908.8 470.5 909.2 471.4C909.7 472.3 912.8 473.4 912.9 474.2C912.9 474.9 909.8 478.2 910.1 478.4C910.4 478.5 914.8 475.6 915.7 475.6C916.6 475.6 918.3 477.3 918.5 478.4C918.6 479.4 917.7 484.0 917.1 485.4C916.5 486.7 913.9 489.9 912.9 491.0C911.8 492.0 907.9 494.3 907.3 495.2C906.6 496.0 905.8 498.4 906.4 498.5C907.0 498.7 911.9 496.3 912.9 496.5C913.8 496.8 915.6 499.6 915.7 500.7C915.7 501.9 913.7 506.3 913.7 507.7C913.7 509.2 915.1 513.4 915.7 514.7C916.2 516.1 918.2 519.1 918.5 520.3C918.8 521.5 918.1 524.7 918.5 525.9C918.8 527.2 921.9 530.9 922.1 532.1C922.2 533.3 920.4 535.9 919.9 537.1C919.3 538.3 918.2 542.4 917.1 543.3C915.9 544.1 910.2 544.9 908.7 545.0C907.1 545.1 902.7 543.8 902.5 544.1C902.4 544.5 906.6 547.3 907.3 548.3C907.9 549.3 909.0 552.5 908.7 553.4C908.4 554.3 905.2 555.9 904.5 556.7C903.7 557.5 901.8 559.4 901.7 560.9C901.5 562.4 902.8 568.8 903.1 570.7C903.4 572.7 904.5 577.5 904.5 579.1C904.5 580.7 903.7 584.8 903.1 586.1C902.5 587.4 899.6 590.7 898.9 591.7C898.1 592.7 896.5 594.7 896.1 595.9C895.7 597.1 896.0 601.7 895.2 602.9C894.5 604.1 890.6 606.1 889.1 607.1C887.5 608.1 882.3 611.2 880.7 612.1C879.0 613.1 874.8 615.6 873.7 616.0C872.5 616.5 870.5 615.5 870.0 616.0C869.6 616.6 870.1 620.4 869.5 621.1C868.8 621.8 864.9 621.9 863.9 622.5C862.8 623.1 860.3 625.5 859.7 626.7C859.0 627.9 858.3 632.5 857.7 633.7C857.1 634.9 854.3 636.7 854.1 637.9C853.8 639.1 855.0 643.5 855.5 644.9C856.0 646.2 858.5 649.1 858.8 650.5C859.1 651.8 858.5 656.3 858.3 657.5C858.1 658.7 857.7 661.0 856.9 661.7C856.1 662.3 851.3 662.7 850.4 663.6C849.6 664.5 849.0 668.8 848.5 670.1C848.0 671.3 846.4 674.6 845.7 675.7C844.9 676.7 841.5 679.1 841.5 679.9C841.5 680.6 844.6 681.8 845.7 682.7C846.7 683.5 850.2 687.0 851.3 688.2C852.3 689.5 855.0 692.5 855.5 694.0C856.0 695.5 856.1 700.7 856.0 702.4C856.0 704.0 855.7 708.2 854.9 709.4C854.1 710.6 849.4 712.5 848.5 713.6C847.6 714.6 847.2 718.4 846.5 719.2C845.8 719.9 842.7 719.4 842.1 720.6C841.4 721.8 840.6 728.3 840.7 730.4C840.7 732.5 842.3 738.1 842.9 740.2C843.5 742.3 845.9 748.2 846.5 750.0C847.1 751.8 848.5 755.6 848.5 757.0C848.5 758.3 847.4 761.9 846.5 762.6C845.6 763.2 841.5 763.6 840.1 763.4C838.7 763.2 834.4 760.5 833.1 760.6C831.8 760.7 828.7 763.0 827.5 764.0C826.3 764.9 823.1 768.2 821.9 769.6C820.7 770.9 817.1 775.2 816.3 776.5C815.5 777.9 814.2 781.1 814.1 782.1C813.9 783.2 815.6 785.4 814.9 786.3C814.3 787.2 809.0 789.6 807.9 790.5C806.9 791.4 805.4 793.7 805.1 794.7C804.9 795.8 805.2 799.1 805.7 800.3C806.1 801.5 808.3 804.4 809.3 805.9C810.3 807.4 814.1 812.5 814.9 814.3C815.7 816.1 816.7 820.9 816.9 822.7C817.0 824.5 815.9 829.5 816.3 831.1C816.7 832.8 819.5 836.6 820.5 838.1C821.6 839.6 825.1 843.5 826.1 845.1C827.1 846.8 829.6 851.6 830.3 853.5C831.0 855.4 832.5 861.2 833.1 863.3C833.7 865.4 835.2 872.2 835.9 873.1C836.6 874.0 838.9 872.3 840.1 871.7C841.3 871.1 845.6 868.4 847.1 867.5C848.6 866.6 852.9 863.8 854.1 863.3C855.3 862.9 857.8 862.7 858.3 863.3C858.8 863.9 859.0 867.6 858.8 868.9C858.7 870.2 857.0 874.7 856.9 875.9C856.8 877.1 857.9 878.9 857.7 880.1C857.6 881.3 856.3 885.4 855.5 887.1C854.7 888.7 851.4 893.5 849.9 895.5C848.4 897.4 843.3 903.3 841.5 905.3C839.7 907.2 834.9 912.2 833.1 913.7C831.3 915.2 826.3 918.5 824.7 919.3C823.1 920.1 819.3 921.1 817.7 921.2C816.1 921.3 811.0 920.2 809.3 920.1C807.7 920.0 803.8 919.7 802.3 920.1C800.8 920.5 796.4 923.1 795.3 924.0C794.3 925.0 793.0 927.9 792.5 929.1C792.1 930.2 792.2 933.8 791.1 934.7C790.1 935.6 784.5 936.9 782.7 937.5C780.9 938.0 776.0 939.7 774.3 939.7C772.7 939.7 768.5 937.9 767.3 937.5C766.1 937.0 764.8 935.4 763.1 935.2C761.5 935.1 754.8 935.9 751.9 936.1C749.1 936.2 739.5 937.0 736.5 936.9C733.6 936.8 726.3 935.5 724.0 935.2C721.6 934.9 716.0 934.6 714.2 934.1C712.4 933.6 709.1 930.9 707.2 930.5C705.2 930.1 698.4 930.2 696.0 930.5C693.6 930.8 687.2 932.7 684.8 933.3C682.4 933.9 675.4 935.7 673.6 936.1C671.8 936.5 669.5 936.9 668.0 936.9C666.5 936.9 661.1 935.9 659.6 936.1C658.1 936.3 654.6 938.0 654.0 938.9C653.3 939.8 653.0 943.3 653.4 944.5C653.9 945.7 657.4 948.9 658.2 950.1C659.0 951.3 660.8 954.3 661.0 955.7C661.1 957.0 660.3 961.2 659.6 962.7C658.8 964.1 654.9 968.2 654.0 969.6C653.0 971.1 651.2 975.1 650.6 976.6C650.1 978.2 649.0 982.0 648.7 984.0C648.3 985.9 647.7 993.1 647.3 995.2C646.8 997.2 645.5 1002.1 644.5 1003.5C643.4 1005.0 639.0 1007.9 637.5 1009.1C636.0 1010.3 631.7 1013.2 630.5 1014.7C629.3 1016.2 626.7 1022.2 626.3 1023.1"/>
<path d="M225.3 1026.7C226.1 1026.6 231.4 1026.5 233.2 1025.4C235.0 1024.3 239.9 1018.1 242.3 1016.3C244.7 1014.5 252.9 1010.1 255.4 1008.4C257.9 1006.7 263.6 1002.3 265.8 1000.6C268.0 998.9 274.3 994.0 276.3 992.7C278.3 991.4 282.4 989.1 284.1 988.8C285.8 988.5 290.5 989.4 291.9 990.1C293.3 990.8 295.5 994.0 297.2 995.4C298.9 996.8 305.1 1001.5 307.6 1003.2C310.1 1004.9 317.6 1009.9 320.7 1011.0C323.8 1012.1 333.0 1013.7 336.3 1013.6C339.6 1013.5 348.9 1010.5 352.0 1009.7C355.1 1008.9 363.0 1007.0 365.0 1005.8C367.0 1004.6 369.2 999.1 370.3 998.0C371.4 996.9 374.4 995.6 375.5 995.9C376.6 996.2 379.3 999.5 380.7 1000.6C382.1 1001.7 387.1 1005.6 388.4 1005.8C389.7 1005.9 392.0 1003.0 392.6 1002.1C393.2 1001.3 392.9 998.7 394.0 997.9C395.0 997.2 400.9 996.0 402.4 995.2C403.9 994.3 406.2 991.3 408.0 990.1C409.8 988.9 416.8 985.1 419.2 984.0C421.6 982.8 428.6 979.5 430.4 979.2C432.2 978.9 434.8 980.1 436.0 981.2C437.2 982.3 440.1 987.5 441.6 989.6C443.1 991.6 447.9 998.4 450.0 1000.7C452.1 1003.1 459.1 1010.4 461.2 1011.9C463.2 1013.5 467.5 1014.9 469.6 1015.3C471.6 1015.7 478.4 1014.5 480.7 1015.3C483.1 1016.1 489.0 1022.2 491.9 1023.1C494.9 1024.1 505.4 1023.6 508.7 1024.5C512.0 1025.4 520.0 1030.6 522.7 1031.5C525.4 1032.4 531.5 1032.4 533.9 1032.9C536.3 1033.5 542.4 1035.8 545.1 1036.6C547.8 1037.3 556.1 1039.2 559.1 1039.9C562.1 1040.6 570.4 1043.1 573.1 1043.3C575.8 1043.4 582.2 1041.8 584.3 1041.3C586.4 1040.8 591.2 1039.7 592.7 1038.5C594.2 1037.3 596.8 1031.9 598.3 1030.1C599.8 1028.3 604.6 1023.1 606.7 1021.7C608.8 1020.4 616.2 1017.7 617.9 1017.5C619.5 1017.4 621.2 1019.6 622.1 1020.3C623.0 1021.1 625.5 1023.3 626.3 1024.5C627.0 1025.7 627.9 1029.9 629.1 1031.5C630.3 1033.2 635.5 1038.1 637.5 1039.9C639.4 1041.7 645.8 1046.8 647.3 1048.3C648.8 1049.8 650.9 1053.0 651.5 1053.9C652.1 1054.8 652.7 1056.4 652.9 1056.7"/>
<path d="M636.0 504.6C636.4 504.2 639.4 502.1 640.4 501.4C641.4 500.6 645.2 497.6 645.2 497.4C645.2 497.2 640.0 499.3 640.0 499.3C640.0 499.3 643.8 497.5 645.6 497.4C647.4 497.3 654.2 498.4 656.8 498.5C659.4 498.7 668.7 497.8 670.2 498.8C671.7 499.8 670.6 506.0 670.8 507.7C671.0 509.4 671.4 513.5 672.2 514.7C672.9 516.0 676.4 519.0 677.8 519.8C679.1 520.6 683.4 521.9 684.8 522.3C686.1 522.7 689.5 522.4 690.4 523.1C691.3 523.8 693.0 527.2 693.2 528.7C693.3 530.2 692.1 535.6 691.8 537.1C691.4 538.7 689.4 542.2 689.8 543.3C690.3 544.3 695.0 545.8 696.0 546.9C697.0 548.1 699.0 552.3 699.3 553.9C699.7 555.6 699.5 560.7 699.3 562.3C699.1 564.0 698.2 568.0 697.4 569.3C696.6 570.7 693.1 573.9 691.8 574.9C690.4 576.0 686.0 578.1 684.8 579.1C683.6 580.2 681.2 583.2 680.6 584.7C679.9 586.2 679.0 591.5 678.6 593.1C678.2 594.7 676.6 599.4 676.9 600.1C677.3 600.8 680.7 599.6 682.0 599.3C683.3 599.0 687.5 597.3 689.0 597.3C690.5 597.3 694.8 598.7 696.0 599.3C697.1 599.8 699.2 600.6 699.6 602.1C700.1 603.5 700.0 610.4 700.2 612.7C700.3 615.0 700.9 621.6 700.7 623.9C700.6 626.1 699.4 632.1 698.8 633.7C698.1 635.2 695.8 637.7 694.6 638.4C693.4 639.1 688.9 639.7 687.6 640.1C686.3 640.5 683.1 640.8 682.5 642.1C681.9 643.3 682.2 649.9 682.0 651.9C681.8 653.8 681.2 659.1 680.6 660.3C680.0 661.4 677.4 662.2 676.4 662.5C675.4 662.8 672.2 662.6 671.3 663.1C670.4 663.6 668.5 666.2 668.0 667.3C667.5 668.3 667.5 671.8 666.6 672.9C665.7 673.9 661.2 676.2 659.6 677.1C657.9 677.9 652.5 680.0 651.2 680.7C649.9 681.3 647.4 682.9 647.0 683.2"/>
<path d="M579.6 683.8C579.3 684.9 577.9 691.7 577.2 693.6C576.6 695.5 574.2 700.5 573.7 701.8C573.2 703.0 572.3 704.6 572.6 705.3C572.8 705.9 574.8 707.5 576.1 707.6C577.3 707.7 582.4 706.5 584.2 706.4C586.1 706.4 592.1 707.4 593.6 707.1C595.1 706.9 597.2 705.0 598.2 704.1C599.2 703.1 601.9 699.3 602.9 698.3C603.9 697.3 606.7 696.0 607.6 694.8C608.4 693.5 610.5 688.7 611.1 686.6C611.6 684.5 612.4 677.4 612.7 674.9C612.9 672.5 612.9 665.5 613.4 663.3C613.8 661.0 616.0 655.7 616.9 654.0C617.8 652.2 620.8 648.6 621.5 647.0C622.3 645.3 624.0 640.8 624.3 638.8C624.7 636.8 624.8 630.0 625.0 628.3C625.3 626.6 626.1 623.5 626.7 622.5C627.3 621.5 629.9 619.3 630.9 619.0C631.8 618.6 634.5 618.5 635.5 619.0C636.5 619.5 639.5 622.5 640.2 623.6C641.0 624.8 642.5 628.0 642.5 629.5C642.5 631.0 640.5 635.8 640.2 637.6C640.0 639.5 640.5 645.0 640.2 647.0C640.0 648.9 638.5 654.4 637.9 656.3C637.3 658.2 634.8 662.8 634.4 664.4C633.9 666.1 633.4 670.2 633.7 671.4C633.9 672.7 635.8 675.1 636.7 676.1C637.7 677.1 641.1 679.9 642.5 680.8C644.0 681.6 648.5 683.2 650.0 684.3C651.5 685.4 654.9 689.7 656.8 691.0C658.7 692.4 666.2 695.8 668.0 696.6C669.8 697.5 671.2 698.4 673.6 699.0C676.0 699.6 687.4 701.8 690.4 702.4C693.4 703.0 699.8 704.0 701.6 704.6C703.4 705.2 705.7 706.4 707.2 708.0C708.7 709.5 713.5 716.8 715.6 719.2C717.6 721.6 723.8 728.0 726.8 730.4C729.7 732.8 740.0 739.1 743.5 741.6C747.1 744.0 756.5 750.8 760.3 753.3C764.2 755.9 776.0 763.0 779.9 765.4C783.8 767.7 793.0 773.0 796.7 775.2C800.4 777.3 813.0 784.7 814.9 785.8"/>
<path d="M857.7 880.1C858.4 880.5 862.3 882.7 863.9 884.3C865.4 885.9 870.3 893.2 872.3 895.5C874.2 897.7 880.0 903.6 882.1 905.3C884.2 906.9 889.6 909.8 891.9 910.9C894.1 911.9 901.1 914.5 903.1 915.1C905.0 915.7 909.0 916.8 910.1 916.5C911.1 916.2 912.9 913.2 912.9 912.3C912.9 911.4 910.7 909.0 910.1 908.1C909.5 907.2 907.3 904.6 907.3 903.9C907.3 903.1 910.1 901.8 910.1 901.1C910.1 900.3 907.5 897.8 907.3 896.9C907.1 896.0 907.7 893.4 908.1 892.7C908.5 891.9 910.8 890.5 910.9 889.9C911.0 889.3 908.5 887.5 908.7 887.1C908.9 886.6 912.1 886.3 912.9 885.7C913.6 885.1 915.5 882.3 915.7 881.5C915.8 880.7 915.0 878.6 914.3 878.1C913.5 877.7 909.2 877.8 908.7 877.3C908.1 876.8 908.6 873.7 909.2 873.1C909.8 872.5 913.6 872.9 914.3 871.7C914.9 870.5 915.7 863.8 915.7 861.9C915.7 860.0 914.3 855.2 914.3 853.5C914.3 851.9 915.8 848.0 915.7 846.5C915.5 845.0 913.5 840.9 912.9 839.5C912.3 838.2 909.8 835.1 910.1 833.9C910.4 832.7 914.6 829.4 915.7 828.3C916.7 827.3 919.3 825.3 919.9 824.1C920.5 822.9 921.0 818.5 921.3 817.1C921.6 815.8 922.1 812.2 922.7 811.5C923.2 810.9 925.8 810.6 926.8 811.0C927.9 811.3 931.4 814.2 932.4 814.9C933.5 815.5 936.2 816.9 936.6 817.1"/>
<path d="M891.9 910.9C892.8 911.3 898.6 913.7 900.3 915.1C901.9 916.4 906.7 922.0 907.3 923.5C907.9 925.0 906.4 927.9 905.9 929.1C905.4 930.3 902.8 933.5 902.5 934.7C902.2 935.9 903.5 938.9 903.1 940.3C902.7 941.6 899.9 945.9 898.9 947.3C897.8 948.6 894.3 952.0 893.3 952.9C892.2 953.8 889.4 954.8 889.1 955.7C888.8 956.5 889.6 959.6 890.5 960.7C891.4 961.7 895.8 964.8 897.5 965.5C899.1 966.1 903.9 966.3 905.9 966.8C907.8 967.4 913.6 970.3 915.7 971.0C917.7 971.8 923.8 973.1 925.5 973.8C927.1 974.6 930.5 975.8 931.0 978.0C931.6 980.3 931.3 992.1 931.0 995.2C930.7 998.2 928.8 1004.3 928.2 1006.3C927.7 1008.4 926.2 1013.2 925.5 1014.7C924.7 1016.2 921.8 1018.8 921.3 1020.3C920.7 1021.8 920.4 1027.2 919.9 1028.7C919.3 1030.2 916.5 1033.1 916.5 1034.3C916.5 1035.5 918.6 1038.7 919.9 1039.9C921.1 1041.1 926.9 1044.3 928.2 1045.5C929.6 1046.7 931.8 1049.9 932.4 1051.1C933.0 1052.3 933.7 1056.1 933.8 1056.7"/>
<path d="M933.8 788.6C933.3 788.8 929.4 789.8 928.8 790.5C928.2 791.3 927.7 794.3 928.2 795.3C928.8 796.3 933.2 799.3 933.8 799.8"/>
<!--/THIN-->
</g>
<g id="thick" stroke="#000" stroke-width="1.950" fill="none" stroke-linejoin="round" stroke-linecap="round">
<!--THICK-->
<path d="M56.3 334.5C57.6 334.7 62.1 335.4 64.1 335.8C66.1 336.3 67.2 336.8 68.4 337.3C69.6 337.9 70.3 338.8 71.2 339.2C72.1 339.6 73.1 339.9 74.0 339.6C74.9 339.2 75.8 338.3 76.4 337.3C77.0 336.3 77.0 334.8 77.7 333.6C78.4 332.3 79.6 331.2 80.5 329.9C81.5 328.5 82.2 327.0 83.3 325.7C84.4 324.5 86.0 323.3 87.1 322.4C88.1 321.5 89.1 320.8 89.9 320.1C90.6 319.5 91.2 318.0 91.7 318.7C92.2 319.3 92.4 322.2 92.6 324.3C92.9 326.3 92.8 329.9 93.2 330.8C93.6 331.7 94.6 331.1 95.1 329.9C95.5 328.6 95.8 325.2 95.8 323.3C95.8 321.5 94.8 319.6 95.1 318.7C95.3 317.7 96.7 317.4 97.3 317.7C97.9 318.0 98.2 319.4 98.6 320.5C99.0 321.6 99.2 323.0 99.6 324.3C99.9 325.5 100.4 326.6 100.7 328.0C101.0 329.4 100.8 331.6 101.4 332.6C102.0 333.7 103.7 334.7 104.4 334.5C105.1 334.3 104.9 332.1 105.7 331.3C106.5 330.6 108.0 330.5 109.4 330.2C110.8 330.0 112.5 330.0 114.1 329.9C115.7 329.7 117.4 329.2 118.8 329.5C120.2 329.7 121.6 330.5 122.5 331.3C123.4 332.2 124.1 333.1 124.4 334.5C124.6 336.0 123.8 338.2 124.0 340.1C124.2 342.0 125.0 343.7 125.7 345.7C126.4 347.7 127.3 350.2 128.1 352.2C128.9 354.3 129.9 356.1 130.5 357.8C131.1 359.5 131.1 361.1 131.8 362.5C132.5 363.9 133.5 365.1 134.6 366.2C135.7 367.4 137.0 368.5 138.4 369.4C139.8 370.3 141.7 371.2 143.0 371.8C144.3 372.5 145.1 372.5 146.2 373.1C147.3 373.8 148.2 374.8 149.6 375.6C150.9 376.4 152.7 377.3 154.2 378.0C155.8 378.7 157.3 379.3 158.9 379.7C160.4 380.0 162.1 380.3 163.5 380.2C164.9 380.2 166.4 379.9 167.3 379.3C168.1 378.7 168.1 376.5 168.6 376.5C169.0 376.5 169.2 378.5 170.1 379.3C170.9 380.1 172.3 380.6 173.8 381.2C175.4 381.7 177.7 382.0 179.4 382.5C181.1 382.9 183.0 383.8 184.1 384.0C185.2 384.1 185.2 383.1 185.9 383.4C186.7 383.7 187.5 384.9 188.7 385.8C190.0 386.8 191.7 388.2 193.4 389.2C195.1 390.1 197.1 390.9 199.0 391.4C200.9 391.9 202.9 392.2 204.6 392.4C206.3 392.5 207.7 392.5 209.3 392.4C210.8 392.2 212.4 391.9 213.9 391.4C215.5 391.0 217.0 390.2 218.6 389.6C220.1 388.9 222.0 388.5 223.2 387.7C224.5 386.9 225.0 385.8 226.0 384.9C227.1 384.0 228.4 382.9 229.8 382.1C231.2 381.2 233.0 380.6 234.4 379.9C235.8 379.1 237.0 378.4 238.2 377.4C239.3 376.5 240.5 375.5 241.3 374.3C242.2 373.0 242.5 371.3 243.2 370.0C243.9 368.6 244.8 367.4 245.6 366.2C246.5 365.1 247.5 363.8 248.4 363.1C249.4 362.3 250.3 361.5 251.2 361.6C252.2 361.6 253.8 363.3 254.0 363.4C254.3 363.6 252.4 362.2 252.8 362.6C253.2 363.1 255.1 365.1 256.5 366.4C257.9 367.6 259.5 368.9 261.2 370.1C262.9 371.4 265.4 373.2 266.8 373.8C268.2 374.5 268.3 373.8 269.6 374.2C270.8 374.7 272.5 375.9 274.3 376.6C276.0 377.4 277.8 378.1 279.9 378.5C281.9 378.9 284.2 379.1 286.4 379.1C288.6 379.1 290.9 378.8 292.9 378.5C294.9 378.2 296.6 377.7 298.5 377.0C300.4 376.3 302.2 374.9 304.1 374.4C306.0 373.9 307.7 374.3 309.7 374.0C311.7 373.8 314.2 373.6 316.2 372.9C318.3 372.3 320.1 371.4 321.8 370.1C323.5 368.9 325.1 367.0 326.5 365.4C327.9 363.9 329.0 362.0 330.2 360.8C331.4 359.5 332.5 358.5 333.6 358.0C334.7 357.5 336.1 358.0 336.8 357.6C337.4 357.2 336.9 356.1 337.7 355.7C338.5 355.4 340.6 355.4 341.4 355.7C342.3 356.1 342.9 357.1 342.7 358.0C342.6 358.9 340.4 361.0 340.5 361.3C340.6 361.7 342.2 359.8 343.3 359.9C344.4 359.9 345.9 360.9 347.0 361.7C348.1 362.5 349.0 363.4 349.8 364.5C350.6 365.6 351.3 367.0 351.7 368.2C352.1 369.5 351.8 371.0 352.2 372.0C352.7 372.9 353.6 373.5 354.5 373.8C355.3 374.2 356.3 374.4 357.3 374.2C358.2 374.0 359.3 372.8 360.1 372.5C360.9 372.3 360.9 373.3 361.9 372.9C363.0 372.5 364.9 371.2 366.6 370.1C368.3 369.0 370.4 367.6 372.2 366.4C374.0 365.2 376.0 363.0 377.4 363.0C378.8 363.0 379.3 365.4 380.6 366.4C381.9 367.4 383.7 368.1 385.3 369.2C386.8 370.3 388.2 371.7 389.9 372.9C391.6 374.2 394.0 375.6 395.5 376.6C397.1 377.7 398.0 378.7 399.3 379.4C400.5 380.2 401.7 380.4 403.0 381.3C404.2 382.2 405.8 383.6 406.7 385.0C407.6 386.4 408.0 388.7 408.6 389.7C409.1 390.7 410.4 390.6 410.1 391.2C409.7 391.8 407.2 392.2 406.3 393.1C405.5 393.9 405.0 394.8 404.9 396.2C404.7 397.7 404.9 400.0 405.2 401.8C405.5 403.7 406.3 405.7 406.7 407.4C407.1 409.1 407.1 410.4 407.6 412.1C408.2 413.8 409.1 415.8 410.1 417.7C411.0 419.6 412.3 421.6 413.2 423.3C414.2 425.0 415.3 426.9 416.0 427.9C416.8 429.0 417.1 428.7 417.9 429.8C418.7 430.9 419.5 433.1 420.7 434.5C422.0 435.9 423.7 437.1 425.4 438.2C427.1 439.3 429.1 440.4 431.0 441.0C432.8 441.6 435.3 442.0 436.6 441.9C437.8 441.8 437.8 440.4 438.4 440.4C439.1 440.4 439.1 441.5 440.3 441.9C441.5 442.3 443.6 442.7 445.6 442.8C447.6 442.9 450.6 443.0 452.1 442.8C453.7 442.5 453.8 441.1 454.9 441.3C456.0 441.5 457.4 443.6 458.7 444.1C459.9 444.6 461.1 443.7 462.4 444.1C463.6 444.5 464.9 445.9 466.1 446.5C467.4 447.2 468.5 447.9 469.9 447.8C471.2 447.7 473.5 446.4 474.5 446.0C475.5 445.5 475.6 446.0 475.8 445.0C476.0 444.0 475.1 441.2 475.8 440.0C476.5 438.8 479.2 437.3 480.1 438.1C481.0 439.0 480.4 443.6 481.0 445.0C481.7 446.5 483.2 448.3 483.8 446.9C484.5 445.5 484.4 437.7 484.8 436.6C485.2 435.6 485.8 440.5 486.3 440.4C486.7 440.2 487.1 435.6 487.6 435.7C488.0 435.9 488.5 439.0 488.9 441.3C489.3 443.6 489.5 447.5 490.0 449.7C490.5 451.9 491.0 453.1 491.9 454.4C492.7 455.7 494.0 457.1 495.0 457.5C496.1 457.9 497.6 457.5 498.2 456.8C498.8 456.0 498.3 453.7 498.8 453.1C499.3 452.4 500.6 452.4 501.2 453.1C501.8 453.7 501.8 456.1 502.5 457.2C503.2 458.3 504.4 459.3 505.3 459.6C506.2 459.9 507.5 459.5 508.1 459.0C508.7 458.6 508.4 456.9 509.0 456.8C509.7 456.6 510.6 457.8 511.8 458.1C513.1 458.4 514.8 458.7 516.5 458.7C518.2 458.7 520.2 458.3 522.1 458.1C524.0 457.9 526.0 458.0 527.7 457.5C529.4 457.1 530.8 456.1 532.4 455.3C533.9 454.5 535.5 453.6 537.0 452.5C538.6 451.4 540.3 450.0 541.7 448.8C543.1 447.5 544.5 444.9 545.4 445.0C546.3 445.2 546.7 449.7 547.3 449.7C547.8 449.7 548.3 446.3 548.8 445.0C549.2 443.8 549.5 443.2 550.1 442.2C550.7 441.3 552.1 440.8 552.5 439.4C552.9 438.1 552.1 434.8 552.5 434.2C552.9 433.6 553.9 435.5 554.7 435.7C555.6 435.9 556.6 435.2 557.5 435.3C558.5 435.5 559.2 436.3 560.3 436.6C561.4 437.0 563.2 436.8 564.1 437.6C564.9 438.4 565.0 441.3 565.4 441.3C565.8 441.3 565.9 438.4 566.5 437.6C567.1 436.8 567.7 436.7 568.7 436.6C569.7 436.5 571.2 437.2 572.5 437.0C573.7 436.9 575.4 435.4 576.2 435.7C577.0 436.0 577.3 437.2 577.5 438.9C577.7 440.6 577.4 445.1 577.7 446.0C577.9 446.8 578.7 445.3 579.0 444.1C579.3 442.9 578.8 439.5 579.6 438.5C580.3 437.5 582.2 438.1 583.7 438.1C585.1 438.2 587.1 438.4 588.3 438.9C589.5 439.3 589.8 440.6 590.7 440.7C591.7 440.9 592.8 440.5 593.9 440.0C595.1 439.5 596.2 438.1 597.6 437.6C599.0 437.0 600.8 436.6 602.3 436.6C603.9 436.6 605.6 437.4 607.0 437.6C608.4 437.7 609.3 437.8 610.7 437.6C612.1 437.4 613.7 436.5 615.4 436.3C617.1 436.1 619.4 436.6 621.0 436.3C622.5 436.0 623.5 434.9 624.7 434.4C625.9 433.9 627.0 433.6 628.4 433.3C629.8 433.0 631.9 432.8 633.1 432.5C634.3 432.3 634.7 432.3 635.9 432.0C637.0 431.6 638.9 430.8 640.0 430.5C641.1 430.1 640.9 430.3 642.3 429.9C643.8 429.6 646.7 429.0 648.7 428.3C650.7 427.7 652.6 426.9 654.3 426.3C656.0 425.6 658.0 425.5 659.1 424.4C660.2 423.2 660.0 420.0 660.7 419.6C661.4 419.2 662.0 421.4 663.1 422.0C664.1 422.5 665.6 422.8 667.1 422.8C668.5 422.8 670.4 422.3 671.9 422.0C673.3 421.6 675.5 421.6 675.5 420.8C675.5 420.1 673.1 418.4 671.9 417.7C670.6 416.9 669.1 416.7 667.9 416.4C666.7 416.0 665.7 416.2 664.7 415.6C663.6 414.9 662.3 413.6 661.5 412.4C660.6 411.2 660.0 409.9 659.6 408.4C659.2 406.9 659.4 404.9 659.1 403.6C658.7 402.3 658.3 401.2 657.5 400.4C656.7 399.6 655.4 399.4 654.3 398.8C653.2 398.3 651.9 397.9 651.1 397.2C650.3 396.6 650.1 395.5 649.5 394.8C649.0 394.2 647.8 393.4 647.9 393.2C648.1 393.1 649.3 393.4 650.3 393.7C651.4 394.1 653.0 395.3 654.3 395.3C655.6 395.4 657.0 394.6 658.3 394.0C659.5 393.5 660.6 392.6 661.8 392.1C663.0 391.6 664.6 391.6 665.5 391.2C666.4 390.7 666.9 390.2 667.1 389.6C667.2 389.0 666.0 388.1 666.3 387.7C666.5 387.2 667.9 387.1 668.7 386.9C669.5 386.6 670.3 386.7 671.1 386.1C671.9 385.4 672.9 384.1 673.5 382.9C674.0 381.7 674.6 380.3 674.3 378.9C673.9 377.5 672.3 375.5 671.5 374.5C670.7 373.5 670.2 373.4 669.3 373.0C668.4 372.6 666.4 372.9 665.9 372.2C665.4 371.5 666.8 369.4 666.4 368.9C666.0 368.3 664.3 368.6 663.3 368.9C662.3 369.2 661.3 369.9 660.3 370.7C659.3 371.5 658.0 372.7 657.3 373.7C656.5 374.7 656.4 376.3 655.8 376.9C655.2 377.5 654.0 377.5 653.6 377.1C653.2 376.7 653.0 375.6 653.2 374.5C653.4 373.4 654.6 372.1 654.7 370.7C654.8 369.3 654.3 367.6 654.0 366.3C653.7 365.0 653.2 363.9 652.8 362.9C652.4 361.9 651.7 361.1 651.7 360.3C651.7 359.5 652.5 358.8 652.7 358.1C652.9 357.4 653.0 356.7 652.8 356.2C652.6 355.7 651.8 355.0 651.3 354.9C650.8 354.8 650.2 355.3 649.9 355.8C649.6 356.3 649.2 357.4 649.3 358.1C649.4 358.8 650.1 359.5 650.6 359.9C651.1 360.3 651.5 360.8 652.1 360.7C652.7 360.6 653.4 359.6 654.0 359.6C654.6 359.6 655.3 360.1 655.7 360.7C656.1 361.2 655.9 362.3 656.2 362.9C656.5 363.4 657.2 364.1 657.7 364.0C658.2 363.9 659.2 363.1 659.4 362.5C659.6 361.9 659.3 361.5 658.8 360.7C658.3 359.9 656.8 358.5 656.4 357.7C656.0 356.9 656.9 356.5 656.7 356.0C656.5 355.5 655.2 354.9 655.2 354.5C655.2 354.1 655.9 353.8 656.6 353.7C657.3 353.6 658.6 354.1 659.6 354.0C660.6 353.9 661.6 353.6 662.5 353.2C663.4 352.8 664.4 352.4 665.1 351.7C665.8 351.0 666.1 350.3 666.6 349.1C667.1 347.9 667.9 345.0 668.1 344.6C668.3 344.2 667.6 347.5 667.9 347.0C668.1 346.4 668.9 343.2 669.5 341.4C670.0 339.5 670.6 337.4 671.1 335.8C671.5 334.2 671.8 333.3 672.3 331.8C672.9 330.3 673.8 328.6 674.3 327.0C674.7 325.4 675.0 324.1 675.1 322.2C675.1 320.4 675.0 317.7 674.7 315.8C674.5 314.0 674.0 312.7 673.5 311.1C672.9 309.5 672.2 307.7 671.4 306.3C670.6 304.8 669.7 303.3 668.7 302.3C667.7 301.2 666.7 300.4 665.5 299.9C664.3 299.4 663.1 299.0 661.5 299.1C659.9 299.2 657.6 300.3 655.9 300.7C654.2 301.1 651.9 301.9 651.1 301.5C650.3 301.1 650.8 299.2 651.1 298.3C651.4 297.4 651.8 296.7 652.7 295.9C653.6 295.1 655.4 294.3 656.7 293.5C658.0 292.7 659.6 292.0 660.7 291.1C661.8 290.2 662.6 289.1 663.1 287.9C663.6 286.7 663.3 285.1 663.9 283.9C664.4 282.7 665.2 281.5 666.3 280.7C667.3 279.9 668.7 279.6 670.3 279.1C671.9 278.7 674.0 278.3 675.8 277.9C677.7 277.4 679.8 276.5 681.4 276.4C683.0 276.4 684.2 277.1 685.4 277.6C686.6 278.0 687.8 279.1 688.6 279.1C689.4 279.2 689.4 277.7 690.2 277.9C691.0 278.0 692.7 279.2 693.4 279.9C694.1 280.7 693.3 281.7 694.2 282.3C695.1 283.0 697.3 283.1 699.0 283.6C700.7 284.1 702.6 284.7 704.6 285.5C706.6 286.3 708.8 287.5 711.0 288.4C713.1 289.3 715.2 290.0 717.3 290.8C719.5 291.6 721.3 292.7 723.7 293.2C726.1 293.7 729.2 293.7 731.7 294.0C734.2 294.3 736.7 294.6 738.9 294.8C741.0 295.0 742.9 294.7 744.5 295.1C746.1 295.6 747.3 296.4 748.5 297.5C749.6 298.6 750.4 299.9 751.6 301.5C752.8 303.1 754.2 305.1 755.6 307.1C757.1 309.1 758.8 311.5 760.4 313.5C762.0 315.4 763.6 317.3 765.2 319.0C766.8 320.8 768.5 322.5 770.0 323.8C771.5 325.2 771.7 325.4 774.3 327.1C776.9 328.8 781.8 332.2 785.5 334.1C789.3 336.0 793.0 337.2 796.7 338.3C800.4 339.4 804.2 340.1 807.9 340.5C811.6 341.0 815.4 341.4 819.1 341.1C822.8 340.8 827.0 339.9 830.3 338.8C833.6 337.8 837.2 336.0 838.7 334.9C840.2 333.9 837.4 333.5 839.3 332.7C841.1 331.8 845.8 330.8 849.9 329.9C854.0 329.0 859.2 328.1 863.9 327.1C868.5 326.1 873.7 325.0 877.9 323.7C882.1 322.4 885.3 320.3 889.1 319.3C892.8 318.2 897.0 317.9 900.3 317.3C903.5 316.6 905.4 315.7 908.7 315.3C911.9 315.0 917.3 314.8 919.9 315.1C922.4 315.3 922.9 316.7 924.1 316.7C925.2 316.7 925.5 315.1 926.8 315.1C928.2 315.0 930.3 316.1 932.4 316.5C934.5 316.8 938.3 317.2 939.4 317.3"/>
<path d="M417.9 430.4C416.8 430.8 413.7 432.2 411.5 433.1C409.2 434.0 406.4 435.2 404.3 436.0C402.2 436.7 400.7 437.2 398.7 437.6C396.7 437.9 394.3 437.8 392.3 437.9C390.3 437.9 388.2 437.7 386.8 437.9C385.3 438.1 384.2 438.5 383.6 439.1C383.0 439.8 382.7 440.9 383.1 441.5C383.4 442.2 385.3 442.1 385.6 443.1C386.0 444.2 385.5 446.1 385.2 447.9C384.8 449.8 384.1 452.0 383.6 454.3C383.0 456.6 382.5 459.0 382.0 461.5C381.4 464.0 380.6 466.8 380.4 469.5C380.1 472.1 380.2 474.8 380.4 477.4C380.5 480.1 380.8 482.8 381.2 485.4C381.5 488.1 382.1 491.0 382.4 493.4C382.8 495.8 382.8 498.1 383.1 499.8C383.4 501.5 383.4 502.7 384.4 503.8C385.4 504.8 387.3 505.4 389.1 506.2C391.0 507.0 393.3 507.7 395.5 508.6C397.8 509.4 400.3 510.3 402.7 511.3C405.1 512.2 408.1 513.4 409.9 514.1C411.7 514.9 412.7 514.4 413.4 515.7C414.1 517.1 413.9 520.0 414.4 522.1C414.8 524.2 415.8 526.5 416.0 528.5C416.1 530.5 415.8 532.2 415.5 534.1C415.1 536.0 414.3 537.7 413.9 539.7C413.4 541.7 412.9 544.3 412.8 546.1C412.6 547.8 412.6 549.0 413.1 550.0C413.5 551.1 414.1 551.9 415.5 552.4C416.8 553.0 419.1 553.0 421.1 553.2C423.1 553.5 425.7 553.3 427.4 553.7C429.2 554.1 430.2 554.8 431.4 555.6C432.6 556.5 433.7 557.4 434.6 558.8C435.6 560.3 436.2 562.5 437.0 564.4C437.8 566.3 438.7 568.4 439.4 570.0C440.1 571.6 440.9 572.4 441.3 574.0C441.7 575.6 441.7 577.6 441.8 579.6C441.9 581.6 442.3 584.0 442.1 585.9C442.0 587.9 441.1 590.1 441.0 591.5C441.0 593.0 441.1 593.7 441.8 594.7C442.5 595.7 444.4 597.0 445.0 597.4C445.6 597.9 444.6 596.8 445.5 597.5C446.3 598.2 449.0 599.7 450.1 601.5C451.3 603.3 451.5 606.1 452.5 608.5C453.4 610.8 454.8 613.1 456.0 615.5C457.1 617.8 458.4 619.9 459.5 622.5C460.6 625.1 460.8 629.8 462.5 631.1C464.2 632.4 467.2 630.4 470.0 630.2C472.8 629.9 476.2 629.7 479.3 629.5C482.4 629.3 486.6 628.7 488.6 629.0C490.6 629.3 491.2 629.9 491.4 631.1C491.6 632.3 490.6 634.2 489.8 636.5C488.9 638.7 487.6 641.7 486.3 644.6C485.0 647.5 483.3 651.0 482.1 654.0C480.9 656.9 479.8 659.8 479.3 662.1C478.7 664.4 478.4 666.4 478.8 667.9C479.2 669.5 480.2 670.7 481.6 671.4C483.1 672.1 485.5 672.1 487.5 672.1C489.4 672.1 491.7 672.1 493.3 671.4C494.8 670.7 495.4 669.0 496.8 667.9C498.1 666.9 499.3 665.7 501.4 665.1C503.6 664.6 507.1 664.7 509.6 664.4C512.1 664.2 514.9 664.3 516.6 663.8C518.4 663.2 519.1 662.0 520.1 661.0C521.1 659.9 521.3 658.1 522.4 657.5C523.6 656.8 525.3 656.8 527.1 657.0C528.9 657.2 531.6 657.8 533.4 658.6C535.1 659.5 536.6 661.0 537.6 662.1C538.6 663.3 538.5 664.8 539.5 665.6C540.4 666.4 542.2 666.2 543.4 666.8C544.7 667.4 545.4 668.5 546.9 669.1C548.5 669.7 550.8 669.5 552.8 670.3C554.7 671.1 556.4 672.4 558.6 673.8C560.7 675.1 563.2 677.0 565.6 678.4C567.9 679.9 570.2 681.6 572.6 682.4C574.9 683.2 578.0 683.6 579.6 683.1C581.1 682.6 580.9 681.7 581.9 679.6C582.9 677.5 584.7 673.0 585.4 670.3C586.1 667.6 586.1 665.4 586.1 663.3C586.1 661.1 585.4 659.8 585.4 657.5C585.4 655.1 585.7 652.0 586.1 649.3C586.5 646.6 587.0 643.7 587.7 641.1C588.5 638.6 590.1 636.7 590.8 634.1C591.5 631.6 591.9 628.3 591.9 626.0C592.0 623.6 592.1 621.5 591.2 620.1C590.3 618.8 587.8 619.0 586.6 617.8C585.3 616.6 584.4 615.3 583.8 613.1C583.2 611.0 583.2 607.9 583.1 605.0C583.0 602.1 583.6 597.6 583.1 595.7C582.6 593.7 580.7 594.7 580.0 593.3C579.4 592.0 579.0 589.1 579.1 587.5C579.2 585.9 578.7 584.7 580.7 583.5C582.8 582.4 587.5 581.4 591.2 580.5C594.9 579.6 599.3 578.8 602.9 578.2C606.5 577.5 611.1 576.8 612.7 576.5C614.3 576.2 612.5 577.2 612.5 576.4C612.5 575.6 612.3 573.4 612.5 571.6C612.7 569.7 612.9 567.6 613.6 565.2C614.3 562.8 615.3 559.9 616.5 557.2C617.6 554.6 619.0 551.8 620.5 549.2C621.9 546.7 623.7 544.5 625.3 542.1C626.9 539.7 628.6 537.1 630.0 534.9C631.5 532.6 632.8 530.9 633.7 528.5C634.6 526.1 635.2 523.2 635.6 520.5C636.1 517.9 636.3 515.5 636.4 512.5C636.5 509.6 636.2 507.8 636.1 503.0C636.0 498.2 636.0 492.3 636.0 483.8C635.9 475.3 636.0 460.6 636.0 451.9C636.0 443.3 636.0 435.3 636.0 432.0"/>
<path d="M462.5 631.1C462.4 632.6 462.3 636.9 461.8 640.0C461.3 643.0 460.1 646.0 459.5 649.3C458.8 652.6 458.4 656.7 457.8 659.8C457.3 662.9 456.7 666.2 456.0 667.9C455.3 669.7 455.2 669.9 453.6 670.3C452.1 670.7 449.8 670.4 446.6 670.3C443.5 670.2 438.9 669.8 435.0 669.6C431.1 669.4 427.2 669.3 423.3 669.1C419.4 668.9 415.5 668.6 411.7 668.4C407.8 668.2 401.9 668.0 400.0 667.9C398.1 667.9 402.7 668.1 400.5 668.2C398.3 668.2 391.5 668.2 387.0 668.2C382.5 668.2 376.6 668.3 373.4 668.2C370.3 668.0 369.8 666.9 368.0 667.1C366.2 667.2 364.9 668.4 362.6 669.0C360.4 669.5 357.2 670.2 354.5 670.3C351.8 670.5 350.0 669.9 346.4 669.8C342.8 669.7 337.4 669.8 332.9 669.8C328.4 669.8 323.6 669.8 319.3 669.8C315.1 669.8 309.7 669.5 307.2 669.8C304.7 670.1 305.4 671.5 304.5 671.7C303.6 671.9 302.7 671.5 301.8 670.9C300.9 670.2 299.7 668.8 299.1 667.6C298.4 666.4 298.4 664.8 297.7 663.6C297.0 662.3 296.1 661.4 295.0 660.0C293.9 658.7 292.5 656.8 290.9 655.5C289.4 654.1 287.8 652.9 285.5 652.2C283.3 651.5 280.1 651.8 277.4 651.4C274.7 651.0 271.8 650.7 269.3 650.0C266.8 649.4 265.0 648.0 262.5 647.3C260.1 646.7 257.1 646.6 254.4 646.0C251.7 645.4 248.6 644.6 246.3 643.8C244.1 643.1 242.3 642.2 240.9 641.4C239.5 640.6 238.8 639.4 237.7 639.2C236.5 639.0 235.0 639.6 234.1 640.0C233.2 640.5 231.8 641.0 232.2 641.9C232.7 642.8 234.9 644.4 236.8 645.4C238.7 646.5 241.7 647.4 243.6 648.1C245.5 648.9 247.7 649.0 248.2 650.0C248.7 651.0 246.8 652.7 246.9 654.1C246.9 655.5 248.3 656.6 248.5 658.2C248.6 659.7 248.7 662.6 247.7 663.6C246.6 664.6 244.7 664.0 242.3 664.1C239.8 664.2 235.9 664.1 232.8 664.4C229.6 664.6 225.7 665.6 223.3 665.7C221.0 665.8 219.9 665.7 218.7 664.9C217.5 664.1 216.7 662.9 216.0 660.9C215.3 658.8 215.0 655.7 214.4 652.7C213.8 649.8 213.1 646.2 212.5 643.3C211.9 640.3 211.5 637.2 210.6 635.2C209.7 633.1 208.7 632.1 207.1 631.1C205.5 630.1 202.7 630.0 200.9 629.2C199.1 628.4 197.7 627.0 196.3 626.5C194.8 626.1 193.6 626.0 192.2 626.5C190.9 627.0 189.7 628.1 188.2 629.8C186.6 631.4 184.8 634.4 182.7 636.5C180.7 638.7 178.2 640.5 176.0 642.7C173.7 645.0 171.5 647.7 169.2 650.0C167.0 652.4 164.6 655.3 162.5 656.8C160.3 658.3 157.2 657.2 156.5 659.0C155.8 660.8 157.6 664.4 158.4 667.6C159.2 670.9 160.5 676.4 161.1 678.4C161.7 680.5 161.3 678.3 161.9 680.0C162.5 681.7 163.6 685.4 164.7 688.4C165.9 691.4 167.9 695.4 168.9 698.2C170.0 701.0 170.4 703.2 170.9 705.2C171.4 707.2 170.7 709.2 171.7 710.2C172.8 711.3 175.9 710.6 177.3 711.3C178.7 712.1 179.3 713.2 180.1 715.0C180.9 716.8 181.5 720.6 182.1 722.0C182.7 723.4 184.0 722.7 183.8 723.4C183.6 724.1 181.6 724.8 181.0 726.2C180.4 727.6 181.0 729.7 180.1 731.8C179.3 733.9 177.6 736.6 175.9 738.8C174.3 741.0 172.2 743.2 170.3 744.9C168.5 746.7 166.8 748.5 164.7 749.4C162.6 750.3 160.3 750.6 157.7 750.5C155.2 750.5 152.1 749.3 149.3 749.1C146.5 748.9 143.1 749.0 141.0 749.4C138.8 749.8 137.1 750.3 136.2 751.4C135.3 752.4 135.0 753.7 135.4 755.6C135.7 757.4 137.5 760.2 138.2 762.6C138.8 764.9 139.2 767.2 139.0 769.6C138.8 771.9 137.5 774.2 136.8 776.5C136.0 778.9 135.1 781.2 134.5 783.5C134.0 785.9 134.0 788.2 133.4 790.5C132.8 792.9 131.4 795.4 131.2 797.5C130.9 799.6 131.3 801.5 131.7 803.1C132.1 804.8 133.3 805.5 133.4 807.3C133.5 809.2 132.2 812.5 132.6 814.3C132.9 816.2 134.0 816.9 135.4 818.5C136.8 820.2 139.3 822.3 141.0 824.1C142.6 826.0 144.2 827.6 145.2 829.7C146.1 831.8 146.1 834.2 146.5 836.7C147.0 839.3 147.2 842.5 147.9 845.1C148.7 847.7 150.0 849.8 151.3 852.1C152.6 854.4 154.4 856.8 155.8 859.1C157.2 861.4 159.0 863.5 159.7 866.1C160.4 868.7 160.4 872.5 160.0 874.5C159.6 876.4 158.0 874.2 157.4 877.8C156.8 881.4 156.3 888.7 156.1 896.1C155.9 903.5 155.9 913.9 156.1 922.2C156.3 930.5 156.5 939.6 157.4 945.7C158.3 951.8 159.3 954.4 161.3 958.8C163.3 963.2 165.7 967.5 169.2 971.9C172.7 976.2 178.5 981.4 182.2 984.9C185.9 988.4 188.8 991.1 191.4 992.7C194.0 994.4 195.7 993.5 197.9 994.8C200.1 996.1 202.2 997.9 204.4 1000.6C206.6 1003.3 208.6 1007.5 211.0 1011.0C213.4 1014.5 216.4 1018.9 218.8 1021.5C221.2 1024.1 224.0 1024.8 225.3 1026.7C226.6 1028.7 227.7 1031.2 226.6 1033.2C225.5 1035.2 221.0 1036.9 218.8 1038.4C216.6 1039.9 214.9 1040.4 213.6 1042.4C212.3 1044.4 213.2 1048.2 211.0 1050.2C208.8 1052.2 203.3 1053.1 200.5 1054.1C197.7 1055.1 196.1 1055.3 194.0 1056.0C191.9 1056.7 189.0 1057.7 188.0 1058.0"/>
<circle cx="293.3" cy="143.7" r="2.05" fill="#000" stroke="none"/>
<circle cx="273" cy="149.9" r="1.95" fill="#000" stroke="none"/>
<path d="M201.9 170.1C202.4 169.8 204.7 169.8 206.4 170.1C208.2 170.3 210.6 171.4 212.4 171.6C214.1 171.8 215.2 170.8 216.9 171.3C218.5 171.8 220.0 173.4 222.1 174.6C224.2 175.7 228.9 177.5 229.6 178.0C230.2 178.4 227.4 177.7 225.8 177.2C224.2 176.8 221.8 175.9 219.9 175.3C217.9 174.7 215.9 174.0 213.9 173.5C211.9 173.1 209.7 172.9 207.9 172.6C206.2 172.3 204.4 172.3 203.4 171.9C202.4 171.4 201.4 170.4 201.9 170.1Z" stroke-width="1.85"/>
<path d="M235.3 178.3L245.6 179.3" stroke-width="3"/>
<ellipse cx="267.6" cy="194.7" rx="3.4" ry="1.9" transform="rotate(15 267.6 194.7)" stroke-width="1.8" fill="none"/>
<path d="M309.3 224.3L311 226.5L313.8 226.8" stroke-width="2.6"/>
<path d="M307.1 231.2L306.2 233.4" stroke-width="2.6"/>
<path d="M317.6 231.7C317.2 231.3 319.5 228.1 321.3 226.8C323.2 225.5 326.4 224.4 328.8 223.8C331.2 223.2 335.7 223.0 336.0 223.4C336.2 223.7 332.4 225.1 330.3 226.0C328.2 227.0 325.7 228.1 323.6 229.0C321.5 230.0 318.0 232.1 317.6 231.7Z" stroke-width="1.85"/>
<ellipse cx="238.6" cy="314" rx="1.8" ry="2.8" transform="rotate(8 238.6 314)" stroke-width="1.8" fill="none"/>
<ellipse cx="294.8" cy="290.4" rx="1.6" ry="3.8" transform="rotate(-35 294.8 290.4)" stroke-width="1.8" fill="none"/>
<ellipse cx="303" cy="296.6" rx="2.6" ry="1.8" transform="rotate(20 303 296.6)" stroke-width="1.8" fill="none"/>
<ellipse cx="335.4" cy="302.4" rx="2.6" ry="1.5" transform="rotate(8 335.4 302.4)" stroke-width="1.8" fill="none"/>
<ellipse cx="389.5" cy="329" rx="3" ry="3.6" transform="rotate(-20 389.5 329)" stroke-width="1.8" fill="none"/>
<ellipse cx="402.3" cy="331.7" rx="3.6" ry="2.4" transform="rotate(15 402.3 331.7)" stroke-width="1.8" fill="none"/>
<ellipse cx="523" cy="314" rx="2.2" ry="2.6" transform="rotate(-30 523 314)" stroke-width="1.8" fill="none"/>
<circle cx="525.5" cy="337.8" r="1.75" fill="#000" stroke="none"/>
<circle cx="467.8" cy="355.7" r="1.85" fill="#000" stroke="none"/>
<circle cx="427" cy="381.1" r="1.85" fill="#000" stroke="none"/>
<circle cx="437.3" cy="383.1" r="1.75" fill="#000" stroke="none"/>
<circle cx="427.5" cy="386.4" r="1.65" fill="#000" stroke="none"/>
<path d="M660.4 373.8L665.4 373.8" stroke-width="2"/>
<path d="M669.8 386.8L672 386.3" stroke-width="2.2"/>
<!--/THICK-->
</g>
</g>

<!-- LEGEND -->
<g id="legend">
<rect x="69.400" y="877.500" width="297.200" height="172.200" rx="2.600" fill="#fff" fill-opacity="0.800" stroke="#d3d3d3" stroke-opacity="0.960" stroke-width="3"/>
<text x="217" y="906" font-size="20.600" text-anchor="middle" fill="#000">LEGENDA</text>
<g font-size="13.890" fill="#000">
<rect x="82" y="917.10" width="30.200" height="12.300" fill="#bebebe"/><text transform="translate(122 928.00) scale(1 1.100)">Berawan / Tidak Hujan</text>
<rect x="82" y="938.00" width="30.200" height="12.300" fill="#00ff00"/><text transform="translate(122 948.95) scale(1 1.100)">Hujan Ringan : 0.1 - 5 mm/jam</text>
<rect x="82" y="958.90" width="30.200" height="12.300" fill="#ffff00"/><text transform="translate(122 969.90) scale(1 1.100)">Hujan Sedang : 5 - 10 mm/jam</text>
<rect x="82" y="979.80" width="30.200" height="12.300" fill="#ff9900"/><text transform="translate(122 990.85) scale(1 1.100)">Hujan Lebat : 10 - 20 mm/jam</text>
<rect x="82" y="1000.70" width="30.200" height="12.300" fill="#ff0000"/><text transform="translate(122 1011.80) scale(1 1.100)">Hujan Sangat Lebat : 20 - 50 mm/jam</text>
<rect x="82" y="1021.60" width="30.200" height="12.300" fill="#e619b4"/><text transform="translate(122 1032.75) scale(1 1.100)">Hujan Ekstrem : &gt;50 mm/jam</text>
</g>
</g>
<text x="933" y="1053.300" font-size="10.500" text-anchor="end" fill="#000">©Sub Bidang Prediksi Cuaca BMKG, 2026</text>

<!-- MAP FRAME -->
<rect x="62.500" y="132.500" width="871" height="924" fill="none" stroke="#000" stroke-width="3.100"/>

<!-- AXIS LABELS -->
<text x="52.900" y="357" font-size="16.900" text-anchor="end" fill="#000">6°S</text>
<text x="661.500" y="1079" font-size="16.670" text-anchor="middle" fill="#000">107°E</text>
<text x="62" y="1101" font-size="17.360" fill="#000">Model: IFS 0.125</text>
<text x="933" y="1101" font-size="17.360" text-anchor="end" fill="#000">Sumber: CIPS BMKG</text>

<!-- COLORBAR -->
<g id="cbar">
<rect x="971" y="224" width="18" height="36" fill="#e619b4"/>
<rect x="971" y="260" width="18" height="64" fill="#ee2620"/>
<rect x="971" y="324" width="18" height="64" fill="#ec6a20"/>
<rect x="971" y="388" width="18" height="64" fill="#ee8e1e"/>
<rect x="971" y="452" width="18" height="64" fill="#eca920"/>
<rect x="971" y="516" width="18" height="64" fill="#efd31a"/>
<rect x="971" y="580" width="18" height="64" fill="#f2f222"/>
<rect x="971" y="644" width="18" height="64" fill="#a9ee1f"/>
<rect x="971" y="708" width="18" height="64" fill="#68f222"/>
<rect x="971" y="772" width="18" height="64" fill="#88f288"/>
<rect x="971" y="836" width="18" height="64" fill="#bdf1bd"/>
<rect x="971" y="900" width="18" height="65" fill="#e8e8e7"/>
<rect x="970.600" y="224.600" width="18.900" height="739.900" fill="none" stroke="#000" stroke-width="3.050"/>
<path d="M991 260.5h10.300M991 324.5h10.300M991 388.5h10.300M991 452.5h10.300M991 516.5h10.300M991 580.5h10.300M991 644.5h10.300M991 708.5h10.300M991 772.5h10.300M991 836.5h10.300M991 900.5h10.300M991 964.5h10.300" stroke="#000" stroke-width="2.900"/>
<g font-size="16.670" fill="#000">
<text x="1014" y="267">50.0</text>
<text x="1014" y="331">20.0</text>
<text x="1014" y="395">17.0</text>
<text x="1014" y="459">14.0</text>
<text x="1014" y="523">10.0</text>
<text x="1014" y="587">7.0</text>
<text x="1014" y="651">5.0</text>
<text x="1014" y="715">3.0</text>
<text x="1014" y="779">1.0</text>
<text x="1014" y="843">0.5</text>
<text x="1014" y="907">0.1</text>
<text x="1014" y="971">0.0</text>
</g>
</g>
</svg>
</body>
</html>
